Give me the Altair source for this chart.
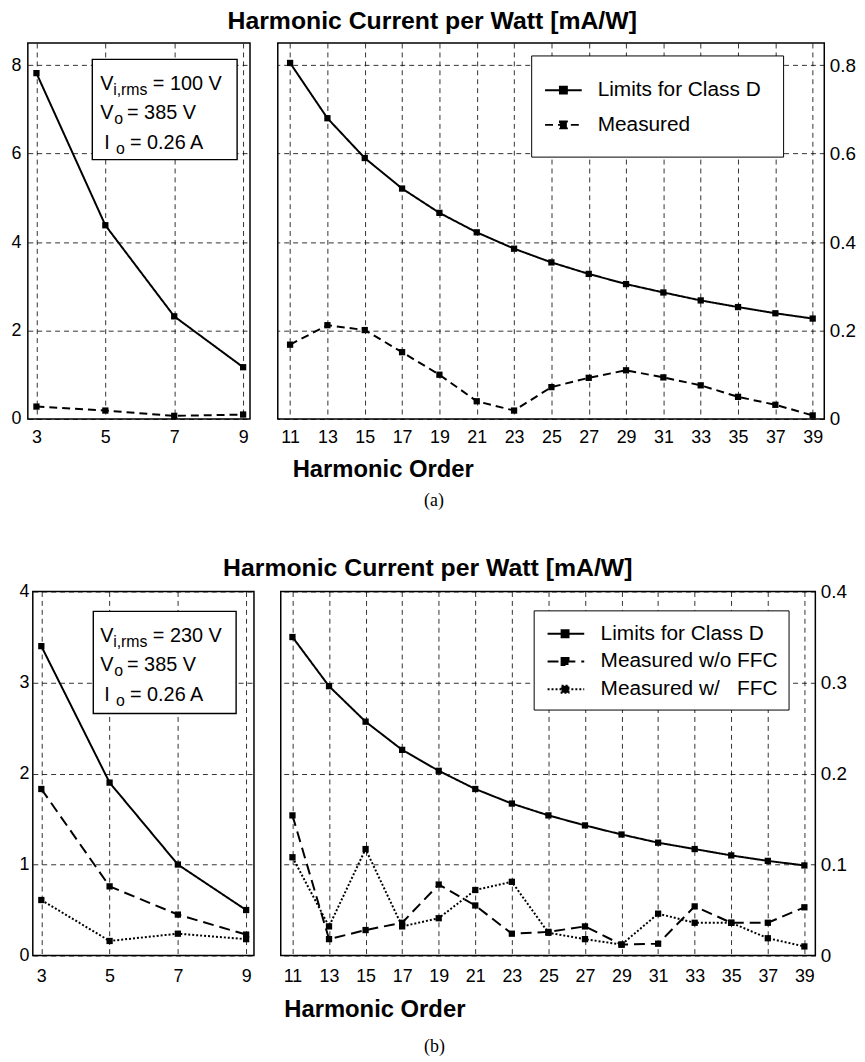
import altair as alt
import pandas as pd

FONT = "Liberation Sans"
SERIF = "Liberation Serif"

# ---------------- data ----------------
orders_low = [3, 5, 7, 9]
orders_high = [11, 13, 15, 17, 19, 21, 23, 25, 27, 29, 31, 33, 35, 37, 39]

# (a) Vi,rms = 100 V
a_limit_low = [7.82, 4.38, 2.32, 1.17]
a_meas_low = [0.28, 0.19, 0.07, 0.10]
a_limit_high = [0.805, 0.680, 0.590, 0.521, 0.466, 0.422, 0.385, 0.354, 0.328,
                0.305, 0.286, 0.268, 0.253, 0.239, 0.227]
a_meas_high = [0.168, 0.212, 0.201, 0.151, 0.100, 0.040, 0.019, 0.072, 0.093,
               0.110, 0.094, 0.076, 0.050, 0.032, 0.008]

# (b) Vi,rms = 230 V
b_limit_low = [3.40, 1.90, 1.00, 0.50]
b_wo_low = [1.83, 0.76, 0.45, 0.23]
b_w_low = [0.61, 0.16, 0.24, 0.18]
b_limit_high = [0.350, 0.296, 0.257, 0.226, 0.203, 0.183, 0.167, 0.154, 0.143,
                0.133, 0.124, 0.117, 0.110, 0.104, 0.099]
b_wo_high = [0.154, 0.018, 0.028, 0.036, 0.078, 0.055, 0.024, 0.026, 0.032,
             0.012, 0.013, 0.054, 0.036, 0.036, 0.053]
b_w_high = [0.108, 0.032, 0.117, 0.032, 0.041, 0.072, 0.081, 0.025, 0.018,
            0.012, 0.046, 0.036, 0.036, 0.019, 0.010]

a_names = ["Limits for Class D", "Measured"]
b_names = ["Limits for Class D", "Measured w/o FFC", "Measured w/\u00a0\u00a0\u00a0FFC"]

a_yticks_low = [0, 2, 4, 6, 8]
a_yticks_high = [0, 0.2, 0.4, 0.6, 0.8]
b_yticks_low = [0, 1, 2, 3, 4]
b_yticks_high = [0, 0.1, 0.2, 0.3, 0.4]

main_title = "Harmonic Current per Watt [mA/W]"
x_title = "Harmonic Order"
a_box = [["V", "i,rms", "= 100 V"], ["V", "o", "= 385 V"], ["I", "o", "= 0.26 A"]]
b_box = [["V", "i,rms", "= 230 V"], ["V", "o", "= 385 V"], ["I", "o", "= 0.26 A"]]
a_caption = "(a)"
b_caption = "(b)"

# ---------------- styles ----------------
a_dashes = [[1, 0], [8, 5]]
b_dashes = [[1, 0], [11, 6], [2, 2]]
a_widths = [2.0, 2.0]
b_widths = [2.0, 2.0, 1.6]
TICK_FS = 18


def long_df(orders, names, series):
    rows = []
    for name, vals in zip(names, series):
        for o, v in zip(orders, vals):
            rows.append({"order": o, "value": v, "series": name})
    return pd.DataFrame(rows)


def grid_axis(**kw):
    base = dict(grid=True, gridColor="black", gridDash=[5, 4], gridWidth=0.9,
                gridOpacity=0.9, domain=False, ticks=False, labelFont=FONT,
                labelFontSize=TICK_FS, labelColor="black", labelFlush=False,
                labelOverlap=False)
    base.update(kw)
    return alt.Axis(**base)


def panel(df, names, dashes, widths, xdom, ydom, w, h, xaxis, yaxis, legend, extras):
    x = alt.X("order:Q", scale=alt.Scale(domain=xdom, nice=False, zero=False), axis=xaxis)
    y = alt.Y("value:Q", scale=alt.Scale(domain=ydom, nice=False, zero=False), axis=yaxis)
    base = alt.Chart(df)
    lines = base.mark_line(color="black").encode(
        x=x, y=y,
        strokeDash=alt.StrokeDash("series:N", sort=names,
                                  scale=alt.Scale(domain=names, range=dashes),
                                  legend=legend),
        strokeWidth=alt.StrokeWidth("series:N", sort=names,
                                    scale=alt.Scale(domain=names, range=widths),
                                    legend=None),
    )
    pts = base.mark_point(shape="square", filled=True, size=40, color="black",
                          opacity=1).encode(x=x, y=y)
    return alt.layer(lines, pts, *extras).properties(width=w, height=h)


def info_box(origin, box, lines, yshift):
    ox, oy = origin
    one = alt.Data(values=[{"k": 1}])
    x1, x2, y1, y2 = box
    layers = [alt.Chart(one).mark_rect(fill="white", stroke="black", strokeWidth=1.4).encode(
        x=alt.value(x1 - ox), x2=alt.value(x2 - ox),
        y=alt.value(y1 - oy), y2=alt.value(y2 - oy))]
    xs = [(100, 113, 153), (100, 114, 127), (104, 116, 130)]
    bases = [90 + yshift, 119 + yshift, 149 + yshift]
    for (main, sub, rest), (xa, xb, xc), b in zip(lines, xs, bases):
        for txt, xx, yy, fs in [(main, xa, b, 20), (sub, xb, b + 5, 16), (rest, xc, b, 20)]:
            layers.append(alt.Chart(one).mark_text(
                text=txt, align="left", baseline="alphabetic", font=FONT,
                fontSize=fs, color="black").encode(
                x=alt.value(xx - ox), y=alt.value(yy - oy)))
    return layers


def caption(origin, pos, txt):
    one = alt.Data(values=[{"k": 1}])
    return alt.Chart(one).mark_text(text=txt, font=SERIF, fontSize=18, color="black",
                                    align="center", baseline="middle").encode(
        x=alt.value(pos[0] - origin[0]), y=alt.value(pos[1] - origin[1]))


def make_legend(lx, ly, pad, rowpad, loff, path):
    return alt.Legend(orient="none", legendX=lx, legendY=ly, title=None,
                      fillColor="white", strokeColor="black", padding=pad,
                      symbolType=path, symbolSize=576, symbolStrokeWidth=1.8,
                      symbolStrokeColor="black", symbolFillColor="black",
                      labelFont=FONT, labelFontSize=21, labelColor="black",
                      labelLimit=400, rowPadding=rowpad, labelOffset=loff)


def spacer(w):
    one = alt.Data(values=[{"k": 1}])
    return alt.Chart(one).mark_point(opacity=0).encode(
        x=alt.value(0), y=alt.value(0)
    ).properties(width=w, height=1, view=alt.ViewBackground(strokeOpacity=0))


label_expr = "datum.value == 0 ? '0' : format(datum.value, '.1f')"
xtitle_style = dict(titleFont=FONT, titleFontSize=24, titleFontWeight="bold",
                    titleColor="black", titleAnchor="start", titleAlign="left",
                    titleBaseline="alphabetic")

# ---------------- row (a) ----------------
A_L = (27, 42.5)
A_R = (278.5, 42.5)
a_low_df = long_df(orders_low, a_names, [a_limit_low, a_meas_low])
a_high_df = long_df(orders_high, a_names, [a_limit_high, a_meas_high])

left_a = panel(
    a_low_df, a_names, a_dashes, a_widths, [2.75, 9.2], [0, 8.5], 224, 379,
    grid_axis(values=orders_low, labelPadding=10, title=None),
    grid_axis(values=a_yticks_low, orient="left", labelPadding=7, minExtent=19,
              maxExtent=19, title=None),
    None,
    info_box(A_L, (92, 238, 59, 160), a_box, 0),
)
right_a = panel(
    a_high_df, a_names, a_dashes, a_widths, [10.34, 39.62], [0, 0.85], 551, 379,
    grid_axis(values=orders_high, labelPadding=10, title=x_title, titleX=14.5,
              titleY=58, **xtitle_style),
    grid_axis(values=a_yticks_high, orient="right", labelPadding=5, labelExpr=label_expr,
              labelFontSize=19, title=None),
    make_legend(255.5, 12.5, 22, 12, 19, "M-1.75,0H1.33M-0.5,-0.29H0.08V0.29H-0.5Z"),
    [caption(A_R, (436, 504), a_caption)],
)
row_a = alt.hconcat(
    left_a, right_a, spacing=26,
    title=alt.TitleParams(main_title, font=FONT, fontSize=25, fontWeight="bold",
                          color="black", anchor="middle", offset=8),
).resolve_scale(strokeDash="independent", strokeWidth="independent")

# ---------------- row (b) ----------------
B_L = (32, 591)
B_R = (281, 591)
b_low_df = long_df(orders_low, b_names, [b_limit_low, b_wo_low, b_w_low])
b_high_df = long_df(orders_high, b_names, [b_limit_high, b_wo_high, b_w_high])

left_b = panel(
    b_low_df, b_names, b_dashes, b_widths, [2.75, 9.23], [0, 4], 223, 367,
    grid_axis(values=orders_low, labelPadding=12, title=None),
    grid_axis(values=b_yticks_low, orient="left", labelPadding=4, minExtent=24,
              maxExtent=24, title=None),
    None,
    info_box(B_L, (93, 237, 611, 714), b_box, 552),
)
right_b = panel(
    b_high_df, b_names, b_dashes, b_widths, [10.36, 39.6], [0, 0.4], 539, 367,
    grid_axis(values=orders_high, labelPadding=12, title=x_title, titleX=3,
              titleY=61, **xtitle_style),
    grid_axis(values=b_yticks_high, orient="right", labelPadding=5, labelExpr=label_expr,
              labelFontSize=19, title=None),
    make_legend(255, 19, 10.5, 5, 31, "M-0.79,0H2.29M0.39,-0.29H0.97V0.29H0.39Z"),
    [caption(B_R, (436, 1050), b_caption)],
)
left_b_shifted = alt.hconcat(spacer(1), left_b, spacing=4, bounds="flush")
row_b = alt.hconcat(
    left_b_shifted, right_b, spacing=25,
    title=alt.TitleParams(main_title, font=FONT, fontSize=25, fontWeight="bold",
                          color="black", anchor="middle", offset=1),
).resolve_scale(strokeDash="independent", strokeWidth="independent")

chart = alt.vconcat(row_a, row_b, spacing=45).resolve_scale(
    strokeDash="independent", strokeWidth="independent"
).properties(
    padding={"top": -3, "left": 0, "right": 0, "bottom": 0}
).configure_view(stroke="black", strokeWidth=1.5)

chart.save("out.html", embed_options={"renderer": "svg", "actions": False})
